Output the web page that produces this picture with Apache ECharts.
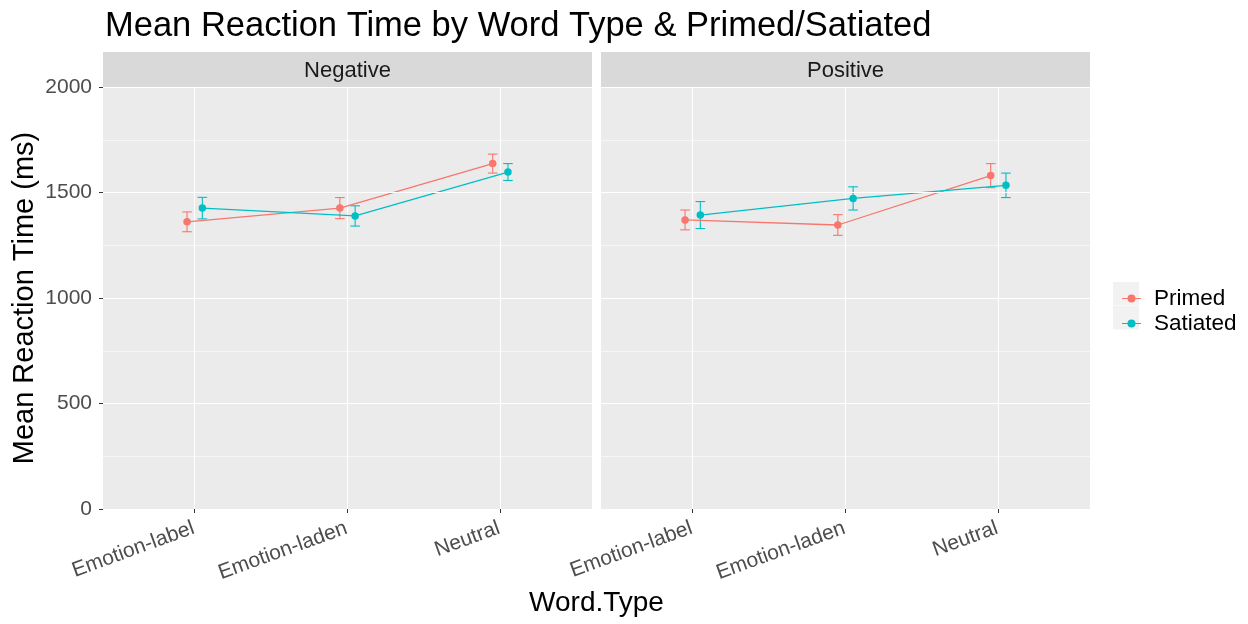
<!DOCTYPE html>
<html>
<head>
<meta charset="utf-8">
<script src="https://cdn.jsdelivr.net/npm/echarts@6/dist/echarts.min.js"></script>
<style>html,body{margin:0;padding:0;background:#fff}#c{width:1248px;height:624px}</style>
</head>
<body>
<div id="c"></div>
<script>
// ---- data ----
const panels = ['Negative', 'Positive'];
const wordTypes = ['Emotion-label', 'Emotion-laden', 'Neutral'];
const groups = ['Primed', 'Satiated'];
const negPrimedMean = [1361, 1426, 1637];
const negPrimedErr = [47, 50, 45];
const negSatiatedMean = [1426, 1389, 1597];
const negSatiatedErr = [51, 48, 40];
const posPrimedMean = [1370, 1346, 1580];
const posPrimedErr = [47, 49, 57];
const posSatiatedMean = [1393, 1472, 1534];
const posSatiatedErr = [64, 55, 58];
const yTicks = [0, 500, 1000, 1500, 2000];

// ---- style / layout ----
const FONT = '"Liberation Sans", Arial, sans-serif';
const colors = {Primed: '#F8766D', Satiated: '#00BFC4'};
const dodge = {Primed: -0.05, Satiated: 0.05};
const panelBoxes = [{x: 103, w: 489}, {x: 601, w: 489}];
const plotTop = 87, plotBottom = 509, stripTop = 52;
const legendIcon = 'path://M0,3.4 L19,3.4 L19,4.6 L0,4.6 Z M9.5,0 A4,4 0 1,1 9.5,8 A4,4 0 1,1 9.5,0 Z';

const panelData = [
  {Primed: [negPrimedMean, negPrimedErr], Satiated: [negSatiatedMean, negSatiatedErr]},
  {Primed: [posPrimedMean, posPrimedErr], Satiated: [posSatiatedMean, posSatiatedErr]}
];

const grids = [], xAxes = [], yAxes = [], series = [], graphics = [];
panelBoxes.forEach((b, pi) => {
  grids.push({left: b.x, width: b.w, top: plotTop, height: plotBottom - plotTop,
    show: true, backgroundColor: '#EBEBEB', borderWidth: 0, containLabel: false, z: 0});
  xAxes.push({
    type: 'value', gridIndex: pi, min: 0.4, max: 3.6, z: 5,
    axisLine: {show: false},
    axisTick: {show: true, customValues: [1, 2, 3], length: 4, lineStyle: {color: '#333', width: 1}},
    axisLabel: {show: true, customValues: [1, 2, 3], rotate: 20, margin: 7,
      align: 'right', verticalAlign: 'top', padding: [0, 5, 0, 0],
      formatter: v => wordTypes[Math.round(v) - 1] || '',
      color: '#4D4D4D', fontSize: 21, fontFamily: FONT},
    splitLine: {show: false}
  });
  yAxes.push({
    type: 'value', gridIndex: pi, min: yTicks[0], max: yTicks[yTicks.length - 1], interval: 500, z: 5,
    axisLine: {show: false},
    axisTick: {show: pi === 0, length: 4, lineStyle: {color: '#333', width: 1}},
    axisLabel: {show: pi === 0, color: '#4D4D4D', fontSize: 21, fontFamily: FONT, margin: 11,
      formatter: v => String(v)},
    splitLine: {show: true, lineStyle: {color: '#FFFFFF', width: 1.1}},
    minorTick: {show: false, splitNumber: 2},
    minorSplitLine: {show: true, lineStyle: {color: '#FFFFFF', width: 0.55}},
    name: pi === 0 ? 'Mean Reaction Time (ms)' : '',
    nameLocation: 'middle', nameGap: 64,
    nameTextStyle: {fontSize: 29, color: '#000', fontFamily: FONT}
  });
  // vertical major grid lines at categories
  series.push({
    type: 'line', xAxisIndex: pi, yAxisIndex: pi, data: [], silent: true, z: 0,
    markLine: {silent: true, symbol: 'none', z: 0, animation: false,
      label: {show: false},
      lineStyle: {color: '#FFFFFF', width: 1.1, type: 'solid'},
      emphasis: {disabled: true},
      data: wordTypes.map((w, i) => ({xAxis: i + 1}))}
  });
  groups.forEach(g => {
    const [mean, err] = panelData[pi][g];
    series.push({
      type: 'custom', name: g, xAxisIndex: pi, yAxisIndex: pi, z: 3,
      itemStyle: {color: colors[g]},
      data: mean.map((m, i) => [i + 1 + dodge[g], m - err[i], m + err[i]]),
      encode: {x: 0, y: [1, 2]},
      renderItem: (params, api) => {
        const x = api.value(0);
        const lo = api.coord([x, api.value(1)]);
        const hi = api.coord([x, api.value(2)]);
        const hw = 4.8;
        const st = {stroke: colors[g], lineWidth: 1.1};
        return {type: 'group', children: [
          {type: 'line', shape: {x1: lo[0], y1: lo[1], x2: hi[0], y2: hi[1]}, style: st},
          {type: 'line', shape: {x1: lo[0] - hw, y1: lo[1], x2: lo[0] + hw, y2: lo[1]}, style: st},
          {type: 'line', shape: {x1: hi[0] - hw, y1: hi[1], x2: hi[0] + hw, y2: hi[1]}, style: st}
        ]};
      }
    });
    series.push({
      type: 'line', name: g, xAxisIndex: pi, yAxisIndex: pi, z: 4,
      data: mean.map((m, i) => [i + 1 + dodge[g], m]),
      symbol: 'circle', symbolSize: 7.5, showSymbol: true,
      itemStyle: {color: colors[g]},
      lineStyle: {color: colors[g], width: 1.3},
      emphasis: {disabled: true}
    });
  });
  // strip
  graphics.push({type: 'rect', left: b.x, top: stripTop, shape: {width: b.w, height: plotTop - stripTop},
    style: {fill: '#D9D9D9'}, silent: true});
  graphics.push({type: 'text', x: b.x + b.w / 2, y: (stripTop + plotTop) / 2 + 1,
    style: {text: panels[pi], fill: '#1A1A1A', fontSize: 22, fontFamily: FONT,
      textAlign: 'center', textVerticalAlign: 'middle'}, silent: true});
});

// x axis title
graphics.push({type: 'text', x: (panelBoxes[0].x + panelBoxes[1].x + panelBoxes[1].w) / 2, y: 603,
  style: {text: 'Word.Type', fill: '#000', fontSize: 28, fontFamily: FONT,
    textAlign: 'center', textVerticalAlign: 'middle'}, silent: true});
// legend key backgrounds
graphics.push({type: 'rect', left: 1113, top: 282, shape: {width: 26, height: 23.5}, style: {fill: '#F2F2F2'}, silent: true});
graphics.push({type: 'rect', left: 1113, top: 306, shape: {width: 26, height: 23.5}, style: {fill: '#F2F2F2'}, silent: true});

const chart = echarts.init(document.getElementById('c'), null, {renderer: 'canvas'});
chart.setOption({
  animation: false,
  backgroundColor: '#FFFFFF',
  title: {text: 'Mean Reaction Time by Word Type & Primed/Satiated', left: 100, top: 4,
    textStyle: {fontSize: 34.5, fontWeight: 'normal', color: '#000', fontFamily: FONT}},
  legend: {
    data: groups.map(g => ({name: g, icon: legendIcon, itemStyle: {color: colors[g], borderWidth: 0}})),
    orient: 'vertical', left: 1117, top: 281, itemGap: 0,
    itemWidth: 19, itemHeight: 8,
    textStyle: {fontSize: 22.5, color: '#000', fontFamily: FONT, padding: [0, 0, 0, 8], lineHeight: 25},
    selectedMode: false
  },
  grid: grids, xAxis: xAxes, yAxis: yAxes, series: series, graphic: graphics
});
</script>
</body>
</html>
